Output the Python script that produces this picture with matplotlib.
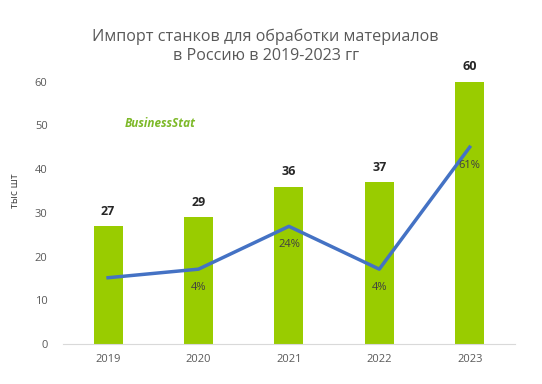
import matplotlib
matplotlib.use("Agg")
import matplotlib.pyplot as plt

years = ["2019", "2020", "2021", "2022", "2023"]
imports = [27, 29, 36, 37, 60]
growth = [0, 4, 24, 4, 61]
growth_labels = ["", "4%", "24%", "4%", "61%"]
yticks = [0, 10, 20, 30, 40, 50, 60]

plt.rcParams['font.family'] = ['Open Sans', 'DejaVu Sans']

fig = plt.figure(figsize=(5.42, 3.84), dpi=100)
ax = fig.add_axes([0.116, 0.104, 0.834, 0.797])
x = list(range(len(years)))
ax.bar(x, imports, width=0.32, color="#99CC00", zorder=2)
ax.set_xlim(-0.5, 4.5)
ax.set_ylim(0, 70)
ax.set_yticks(yticks)
ax.set_xticks(x)
ax.set_xticklabels(years)
ax.tick_params(axis='both', length=0, colors="#595959", labelsize=8)
ax.tick_params(axis='y', pad=11)
ax.tick_params(axis='x', pad=7)
for s in ["top", "right", "left"]:
    ax.spines[s].set_visible(False)
ax.spines["bottom"].set_color("#D9D9D9")
ax.set_ylabel("тыс шт", fontsize=7.5, color="#404040", labelpad=10)
for xi, v in zip(x, imports):
    ax.annotate(str(v), (xi, v), xytext=(0, 6), textcoords="offset points",
                ha="center", va="bottom", fontsize=9, fontweight="bold", color="#262626")

ax2 = ax.twinx()
ax2.plot(x, growth, color="#4472C4", linewidth=2.5, zorder=3)
ax2.set_ylim(-31, 112)
ax2.axis("off")
for xi, v, lab in zip(x, growth, growth_labels):
    if lab:
        ax2.annotate(lab, (xi, v), xytext=(0, -9), textcoords="offset points",
                     ha="center", va="top", fontsize=8, color="#404040")

fig.text(0.49, 0.879, "Импорт станков для обработки материалов\nв Россию в 2019-2023 гг",
         ha="center", va="center", fontsize=11.6, color="#595959", linespacing=1.3)

ax.text(0.215, 0.722, "BusinessStat", transform=ax.transAxes, ha="center", va="center",
        fontsize=8.5, fontweight="bold", fontstyle="italic", color="#7DB928")

fig.savefig("out.png", dpi=100)
